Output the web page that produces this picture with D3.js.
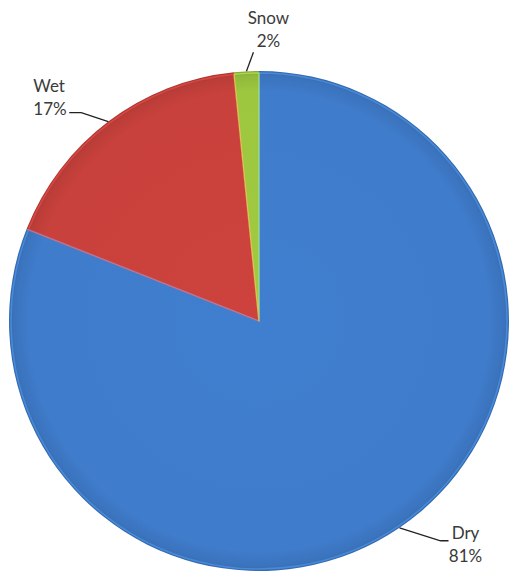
<!DOCTYPE html>
<html>
<head>
<meta charset="utf-8">
<script src="https://cdn.jsdelivr.net/npm/d3@7/dist/d3.min.js"></script>
<style>
  html, body { margin: 0; padding: 0; background: #fff; }
  svg { display: block; }
  text { font-family: Lato, "Open Sans", sans-serif; font-size: 17px; fill: #3a3a3a; }
</style>
</head>
<body>
<svg id="chart" width="510" height="574"></svg>
<script>
// ---- data ----
const categories = ["Dry", "Wet", "Snow"];
const values = [81.0, 17.4, 1.6];
const colors = ["#3f7ccb", "#c9413c", "#9cc73f"];

// ---- layout (styles / positions, not data) ----
const W = 510, H = 574;
const cx = 259, cy = 321, R = 250;
const labelLayout = {
  "Dry":  { elbow: [41, 13], end: [49, 13], text: [66, 11], anchor: "middle" },
  "Wet":  { elbow: [-27, -9], end: [-39, -9], text: [-75, -30], anchor: "start" },
  "Snow": { elbow: [7, -19], end: [7, -19], text: [22, -47], anchor: "middle" }
};

const data = categories.map((c, i) => ({ name: c, value: values[i], color: colors[i] }));
const total = d3.sum(values);
const fmt = d3.format(".0%");

const svg = d3.select("#chart");
const defs = svg.append("defs");

data.forEach((d, i) => {
  const c = d3.color(d.color);
  const g = defs.append("radialGradient")
    .attr("id", "grad" + i)
    .attr("gradientUnits", "userSpaceOnUse")
    .attr("cx", 0).attr("cy", 0).attr("r", R);
  g.append("stop").attr("offset", "0%").attr("stop-color", c.brighter(0.05).toString());
  g.append("stop").attr("offset", "92%").attr("stop-color", c.toString());
  g.append("stop").attr("offset", "98%").attr("stop-color", c.darker(0.2).toString());
  g.append("stop").attr("offset", "100%").attr("stop-color", c.darker(0.45).toString());
});

const pie = d3.pie().sort(null).value(d => d.value);
const arcs = pie(data);
const arc = d3.arc().innerRadius(0).outerRadius(R);
const arcInner = d3.arc().innerRadius(0).outerRadius(R - 2);

const g = svg.append("g").attr("transform", `translate(${cx},${cy})`);

g.selectAll("path.slice")
  .data(arcs)
  .join("path")
  .attr("class", "slice")
  .attr("d", arc)
  .attr("fill", (d, i) => `url(#grad${i})`);

// bevel highlight along slice edges
g.selectAll("path.hl")
  .data(arcs)
  .join("path")
  .attr("class", "hl")
  .attr("d", arcInner)
  .attr("fill", "none")
  .attr("stroke", d => d3.color(d.data.color).brighter(0.8).toString())
  .attr("stroke-opacity", 0.5)
  .attr("stroke-width", 1.6)
  .attr("stroke-linejoin", "round");

// leader lines and labels
const mid = d => (d.startAngle + d.endAngle) / 2;
const arcPoint = d => [R * Math.sin(mid(d)), -R * Math.cos(mid(d))];

const lab = svg.append("g").attr("transform", `translate(${cx},${cy})`);

arcs.forEach(d => {
  const L = labelLayout[d.data.name];
  const p = arcPoint(d);
  const e = [p[0] + L.elbow[0], p[1] + L.elbow[1]];
  const f = [p[0] + L.end[0], p[1] + L.end[1]];
  lab.append("path")
    .attr("d", d3.line()([p, e, f]))
    .attr("fill", "none")
    .attr("stroke", "#222")
    .attr("stroke-width", 1.3);
  const t = lab.append("text")
    .attr("text-anchor", L.anchor)
    .attr("x", p[0] + L.text[0])
    .attr("y", p[1] + L.text[1]);
  t.append("tspan").attr("x", p[0] + L.text[0]).attr("dy", 0).text(d.data.name);
  t.append("tspan").attr("x", p[0] + L.text[0]).attr("dy", 23).text(fmt(d.data.value / total));
});
</script>
</body>
</html>
